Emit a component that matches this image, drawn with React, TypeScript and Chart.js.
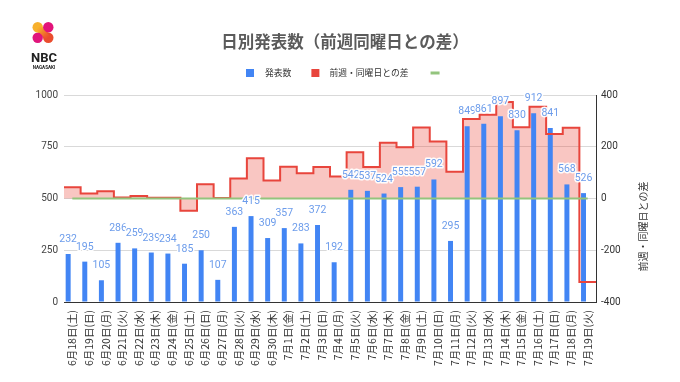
import React, { useEffect, useRef } from "react";
import { Chart, registerables } from "chart.js";

Chart.register(...registerables);

// ---------- data ----------
const dateLabels = [
  "6月18日(土)", "6月19日(日)", "6月20日(月)", "6月21日(火)", "6月22日(水)", "6月23日(木)",
  "6月24日(金)", "6月25日(土)", "6月26日(日)", "6月27日(月)", "6月28日(火)", "6月29日(水)",
  "6月30日(木)", "7月1日(金)", "7月2日(土)", "7月3日(日)", "7月4日(月)", "7月5日(火)",
  "7月6日(水)", "7月7日(木)", "7月8日(金)", "7月9日(土)", "7月10日(日)", "7月11日(月)",
  "7月12日(火)", "7月13日(水)", "7月14日(木)", "7月15日(金)", "7月16日(土)", "7月17日(日)",
  "7月18日(月)", "7月19日(火)",
];
const dailyCounts = [
  232, 195, 105, 286, 259, 239, 234, 185, 250, 107, 363, 415, 309, 357, 283, 372,
  192, 542, 537, 524, 555, 557, 592, 295, 849, 861, 897, 830, 912, 841, 568, 526,
];
const weekDiffs = [
  43, 19, 28, 4, 10, 3, 3, -47, 55, 2, 77, 156, 70, 123, 98, 122,
  85, 179, 122, 215, 198, 274, 220, 103, 307, 324, 373, 275, 355, 249, 273, -323,
];
const zeroLine = [
  0, 0, 0, 0, 0, 0, 0, 0, 0, 0, 0, 0, 0, 0, 0, 0,
  0, 0, 0, 0, 0, 0, 0, 0, 0, 0, 0, 0, 0, 0, 0, 0,
];
const seriesNames = ["発表数", "前週・同曜日との差", ""];
const titleText = "日別発表数（前週同曜日との差）";
const rightAxisTitle = "前週・同曜日との差";
const leftAxisRange = [0, 1000];
const leftAxisStep = 250;
const rightAxisRange = [-400, 400];
const rightAxisStep = 200;

// ---------- styles ----------
const BLUE = "#4285f4";
const RED = "#e8453c";
const PINK = "rgba(234, 67, 53, 0.3)";
const GREEN = "#93c47d";
const LABEL_BLUE = "#6c9ceb";
const FONT = "Roboto, 'Noto Sans CJK JP', sans-serif";
const JFONT = "'Noto Sans CJK JP', Roboto, sans-serif";

const decorPlugin = {
  id: "decor",
  afterDatasetsDraw(chart: any) {
    const ctx = chart.ctx;
    const meta = chart.getDatasetMeta(0);
    ctx.save();
    ctx.font = `10.5px ${FONT}`;
    ctx.textAlign = "center";
    ctx.textBaseline = "alphabetic";
    ctx.lineJoin = "round";
    meta.data.forEach((bar: any, i: number) => {
      const txt = String(dailyCounts[i]);
      const y = bar.y - 12;
      ctx.strokeStyle = "rgba(255,255,255,0.95)";
      ctx.lineWidth = 3;
      ctx.strokeText(txt, bar.x, y);
      ctx.fillStyle = LABEL_BLUE;
      ctx.fillText(txt, bar.x, y);
    });
    ctx.restore();
  },
  afterDraw(chart: any) {
    const ctx = chart.ctx;
    ctx.save();
    // title
    ctx.font = `bold 16.5px ${JFONT}`;
    ctx.fillStyle = "#5b5b5b";
    ctx.textAlign = "center";
    ctx.textBaseline = "middle";
    ctx.fillText(titleText, chart.width / 2 + 5, 42);

    // legend
    const ly = 73;
    ctx.font = `8.8px ${JFONT}`;
    ctx.textAlign = "left";
    let x = 246;
    ctx.fillStyle = BLUE;
    ctx.fillRect(x, ly - 4, 8, 8);
    ctx.fillStyle = "#333";
    ctx.fillText(seriesNames[0], x + 19, ly);
    x = x + 19 + ctx.measureText(seriesNames[0]).width + 20;
    ctx.fillStyle = RED;
    ctx.fillRect(x, ly - 4, 8, 8);
    ctx.fillStyle = "#333";
    ctx.fillText(seriesNames[1], x + 18, ly);
    x = x + 18 + ctx.measureText(seriesNames[1]).width + 22;
    ctx.strokeStyle = GREEN;
    ctx.lineWidth = 3;
    ctx.beginPath();
    ctx.moveTo(x, ly);
    ctx.lineTo(x + 9, ly);
    ctx.stroke();

    // right axis title
    const area = chart.chartArea;
    ctx.save();
    ctx.translate(643, (area.top + area.bottom) / 2 + 28);
    ctx.rotate(-Math.PI / 2);
    ctx.font = `10px ${JFONT}`;
    ctx.fillStyle = "#333";
    ctx.textAlign = "center";
    ctx.textBaseline = "middle";
    ctx.fillText(rightAxisTitle, 0, 0);
    ctx.restore();

    // logo
    const cx = 43, cy = 32.5, d = 5.3, r = 5.2;
    const band = ctx.createLinearGradient(cx - d, cy - d, cx + d, cy + d);
    band.addColorStop(0, "#f7b32b");
    band.addColorStop(1, "#ec4a2d");
    ctx.strokeStyle = band;
    ctx.lineWidth = 7;
    ctx.lineCap = "round";
    ctx.beginPath();
    ctx.moveTo(cx - d, cy - d);
    ctx.lineTo(cx + d, cy + d);
    ctx.stroke();
    const circles: [number, number, string][] = [
      [cx + d, cy - d, "#e2137a"],
      [cx - d, cy + d, "#e0157c"],
      [cx - d, cy - d, "#f7b02d"],
      [cx + d, cy + d, "#ea4d2e"],
    ];
    circles.forEach(([px, py, c]) => {
      ctx.fillStyle = c;
      ctx.beginPath();
      ctx.arc(px, py, r, 0, Math.PI * 2);
      ctx.fill();
    });
    ctx.globalAlpha = 0.85;
    ctx.strokeStyle = band;
    ctx.lineWidth = 5;
    ctx.beginPath();
    ctx.moveTo(cx - d + 1, cy - d + 1);
    ctx.lineTo(cx + d - 1, cy + d - 1);
    ctx.stroke();
    ctx.globalAlpha = 1;
    ctx.fillStyle = "#222";
    ctx.textAlign = "center";
    ctx.textBaseline = "alphabetic";
    ctx.font = `bold 13px Roboto, sans-serif`;
    ctx.fillText("NBC", 44, 61.5);
    ctx.font = `bold 4.6px Roboto, sans-serif`;
    ctx.fillText("NAGASAKI", 44, 68.5);
    ctx.restore();
  },
};

export default function App() {
  const canvasRef = useRef<HTMLCanvasElement | null>(null);

  useEffect(() => {
    const canvas = canvasRef.current;
    if (!canvas) return;
    const n = weekDiffs.length;
    // step line: each value spans its own category (from i-0.5 to i+0.5)
    const linePts = [{ x: -0.5, y: weekDiffs[0] }].concat(
      weekDiffs.map((v, i) => ({ x: i + 0.5, y: v }))
    );
    const fillPts = [{ x: -0.5, y: weekDiffs[0] }].concat(
      weekDiffs.slice(0, n - 1).map((v, i) => ({ x: i + 0.5, y: v }))
    );

    const chart = new Chart(canvas, {
      type: "bar",
      data: {
        labels: dateLabels,
        datasets: [
          {
            type: "bar",
            label: seriesNames[0],
            data: dailyCounts,
            backgroundColor: BLUE,
            xAxisID: "x",
            yAxisID: "y",
            barPercentage: 0.6,
            categoryPercentage: 1,
            order: 2,
          } as any,
          {
            type: "line",
            label: "fill",
            data: fillPts,
            xAxisID: "xLine",
            yAxisID: "y1",
            stepped: "after",
            fill: "origin",
            backgroundColor: PINK,
            borderWidth: 0,
            borderColor: "rgba(0,0,0,0)",
            pointRadius: 0,
            order: 3,
          } as any,
          {
            type: "line",
            label: seriesNames[1],
            data: linePts,
            xAxisID: "xLine",
            yAxisID: "y1",
            stepped: "after",
            fill: false,
            borderColor: RED,
            borderWidth: 2,
            pointRadius: 0,
            order: 1,
          } as any,
          {
            type: "line",
            label: seriesNames[2],
            data: zeroLine,
            xAxisID: "x",
            yAxisID: "y1",
            fill: false,
            borderColor: GREEN,
            borderWidth: 2,
            pointRadius: 0,
            order: 0,
          } as any,
        ],
      },
      options: {
        animation: false,
        responsive: false,
        devicePixelRatio: 1,
        layout: { padding: { top: 95, left: 0, right: 0, bottom: 0 } },
        plugins: {
          legend: { display: false },
          title: { display: false },
          tooltip: { enabled: false },
        },
        scales: {
          x: {
            type: "category",
            offset: true,
            grid: { display: false, drawTicks: false },
            border: { display: true, color: "#333", width: 1 },
            ticks: {
              autoSkip: false,
              maxRotation: 90,
              minRotation: 90,
              padding: 8,
              color: "#333",
              font: { family: JFONT, size: 10.5 },
            },
            afterFit: (s: any) => {
              s.height = 80;
            },
          },
          xLine: {
            type: "linear",
            display: false,
            offset: false,
            grid: { offset: false },
            bounds: "data",
            min: -0.5,
            max: dateLabels.length - 0.5,
            afterDataLimits: (s: any) => {
              s.min = -0.5;
              s.max = dateLabels.length - 0.5;
            },
          },
          y: {
            position: "left",
            min: leftAxisRange[0],
            max: leftAxisRange[1],
            grid: { color: "#d9d9d9", drawTicks: false },
            border: { display: false },
            ticks: {
              stepSize: leftAxisStep,
              padding: 6,
              color: "#444",
              font: { family: FONT, size: 10 },
              callback: (v: any) => String(v),
            },
            afterFit: (s: any) => {
              s.width = 64;
            },
          },
          y1: {
            position: "right",
            min: rightAxisRange[0],
            max: rightAxisRange[1],
            grid: { drawOnChartArea: false, drawTicks: false },
            border: { display: true, color: "#333", width: 1 },
            ticks: {
              stepSize: rightAxisStep,
              padding: 5,
              color: "#333",
              font: { family: FONT, size: 10 },
              callback: (v: any) => String(v),
            },
            afterFit: (s: any) => {
              s.width = 84;
            },
          },
        },
      } as any,
      plugins: [decorPlugin],
    });
    return () => chart.destroy();
  }, []);

  return (
    <div style={{ position: "absolute", left: 0, top: 0, width: 680, height: 382, background: "#fff" }}>
      <canvas ref={canvasRef} width={680} height={382} />
    </div>
  );
}
